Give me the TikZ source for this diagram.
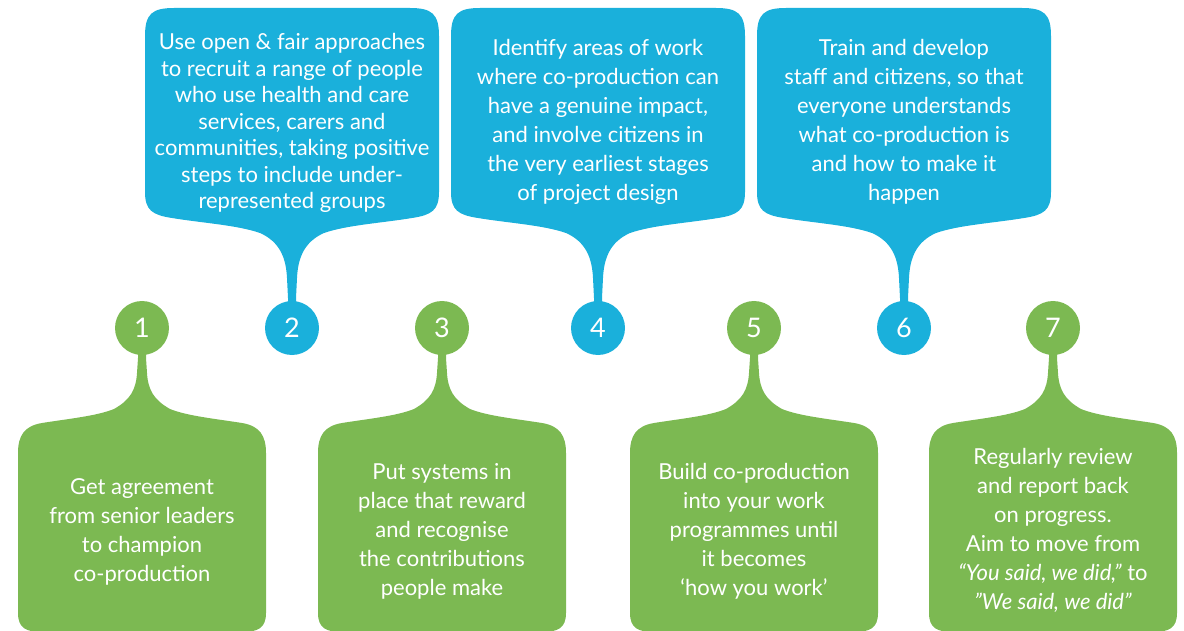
\documentclass[tikz,border=0pt]{standalone}
\usepackage{fontspec}
\setmainfont{Lato}
\usepackage{tikz}
\usetikzlibrary{positioning}

\definecolor{stepgreen}{RGB}{124,185,82}
\definecolor{stepblue}{RGB}{26,176,219}

\begin{document}
\begin{tikzpicture}[x=1pt,y=-1pt,
                    numdot/.style={circle,inner sep=0pt,minimum size=54pt,text=white,
                                   font=\fontsize{27pt}{30pt}\selectfont},
                    steptext/.style={align=center,text=white,inner sep=0pt,
                                     font=\fontsize{22pt}{29pt}\selectfont}]
\tikzset{
  grbubble/.pic={
    \fill[stepgreen] (-4,0) -- (-4,30) -- (-5,45) .. controls (-6,62) and (-12,72) .. (-28,81)
      .. controls (-45,88) and (-75,91) .. (-100,95) .. controls (-118,98) and (-124,108) .. (-124,125)
      -- (-124,285) .. controls (-124,300) and (-116,304) .. (-100,304) -- (100,304)
      .. controls (116,304) and (124,300) .. (124,285) -- (124,125)
      .. controls (124,108) and (118,98) .. (100,95) .. controls (75,91) and (45,88) .. (28,81)
      .. controls (12,72) and (6,62) .. (5,45) -- (4,30) -- (4,0) -- cycle;
  },
  blbubble/.pic={
    \fill[stepblue] (-4,0) -- (-4,-30) -- (-5,-50) .. controls (-6,-70) and (-12,-86) .. (-32,-95)
      .. controls (-55,-103) and (-90,-105) .. (-120,-110) .. controls (-140,-113) and (-147,-118) .. (-147,-136)
      -- (-147,-292) .. controls (-147,-314) and (-140,-320) .. (-118,-320) -- (118,-320)
      .. controls (140,-320) and (147,-314) .. (147,-292) -- (147,-136)
      .. controls (147,-118) and (140,-113) .. (120,-110) .. controls (90,-105) and (55,-103) .. (32,-95)
      .. controls (12,-86) and (6,-70) .. (5,-50) -- (4,-30) -- (4,0) -- cycle;
  }
}
\useasboundingbox (0,0) rectangle (1184,631);

% shapes behind the numbers
\pic at (142,328) {grbubble};
\pic at (442,328) {grbubble};
\pic at (754,328) {grbubble};
\pic at (1053,328) {grbubble};
\pic at (292,328) {blbubble};
\pic at (598,328) {blbubble};
\pic at (904,328) {blbubble};

% numbered dots
\node[numdot,fill=stepgreen] (n1) at (142,328) {1};
\node[numdot,fill=stepblue]  (n2) at (292,328) {2};
\node[numdot,fill=stepgreen] (n3) at (442,328) {3};
\node[numdot,fill=stepblue]  (n4) at (598,328) {4};
\node[numdot,fill=stepgreen] (n5) at (754,328) {5};
\node[numdot,fill=stepblue]  (n6) at (904,328) {6};
\node[numdot,fill=stepgreen] (n7) at (1053,328) {7};

% texts
\node[steptext] (t1) at (142,532) {Get agreement\\from senior leaders\\to champion\\co-production};
\node[steptext,font=\fontsize{22pt}{26.5pt}\selectfont] (t2) at (292,123) {Use open \& fair approaches\\to recruit a range of people\\who use health and care\\services, carers and\\communities, taking positive\\steps to include under-\\represented groups};
\node[steptext] (t3) at (442,531) {Put systems in\\place that reward\\and recognise\\the contributions\\people make};
\node[steptext] (t4) at (598,122) {Identify areas of work\\where co-production can\\have a genuine impact,\\and involve citizens in\\the very earliest stages\\of project design};
\node[steptext] (t5) at (754,531) {Build co-production\\into your work\\programmes until\\it becomes\\‘how you work’};
\node[steptext] (t6) at (904,122) {Train and develop\\staff and citizens, so that\\everyone understands\\what co-production is\\and how to make it\\happen};
\node[steptext] (t7) at (1053,530) {Regularly review\\and report back\\on progress.\\Aim to move from\\\textit{“You said, we did,”} to\\\textit{”We said, we did”}};

\end{tikzpicture}
\end{document}
